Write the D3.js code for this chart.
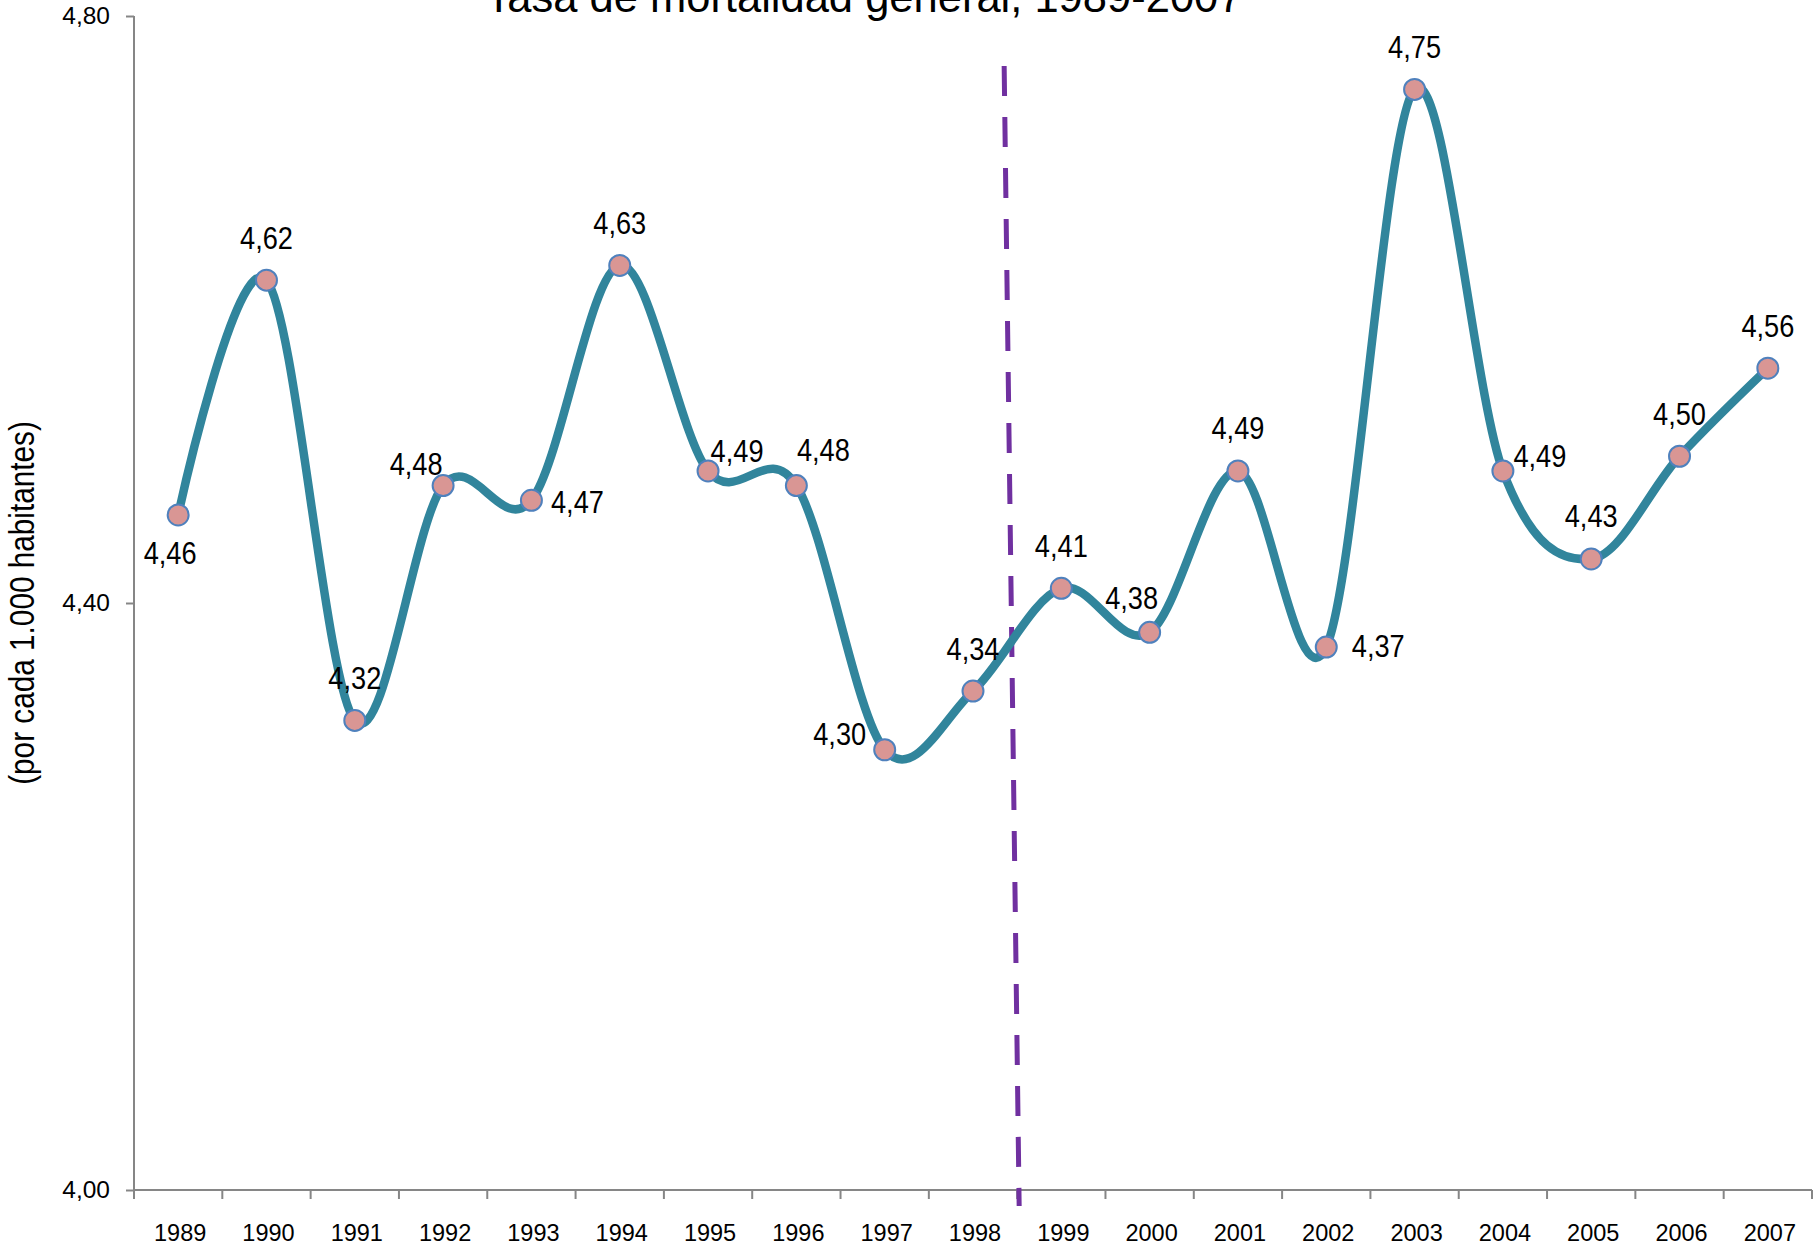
<!DOCTYPE html>
<html>
<head>
<meta charset="utf-8">
<script src="https://cdn.jsdelivr.net/npm/d3@7"></script>
<style>
  html, body { margin: 0; padding: 0; background: #ffffff; }
  svg { display: block; }
</style>
</head>
<body>
<svg id="chart" width="1818" height="1251"></svg>
<script>
// Tasa de mortalidad general por año
const years = ["1989", "1990", "1991", "1992", "1993", "1994", "1995", "1996", "1997", "1998",
               "1999", "2000", "2001", "2002", "2003", "2004", "2005", "2006", "2007"];
const rates = [4.46, 4.62, 4.32, 4.48, 4.47, 4.63, 4.49, 4.48, 4.30, 4.34,
               4.41, 4.38, 4.49, 4.37, 4.75, 4.49, 4.43, 4.50, 4.56];
const yTickValues = [4.00, 4.40, 4.80];
const titleText = "Tasa de mortalidad general, 1989-2007";
const yAxisTitle = "(por cada 1.000 habitantes)";
// year after which the period divider is drawn
const dividerYear = "1999";

const W = 1818, H = 1251;
const margin = { top: 16, right: 6, bottom: 61, left: 134 };

const svg = d3.select("#chart");

const x = d3.scaleBand()
  .domain(years)
  .range([margin.left, W - margin.right])
  .paddingInner(0).paddingOuter(0);

const y = d3.scaleLinear()
  .domain([4.00, 4.80])
  .range([H - margin.bottom, margin.top]);

const locale = d3.formatLocale({ decimal: ",", thousands: ".", grouping: [3], currency: ["", ""] });
const fmt = locale.format(".2f");

const axisColor = "#868686";
const sansFont = "'Liberation Sans', Arial, sans-serif";
// horizontally condensed sans for the narrow labels
const narrow = 0.85;

// Title (partly above the top edge)
svg.append("text")
  .attr("x", 864)
  .attr("y", 12)
  .attr("text-anchor", "middle")
  .attr("font-family", sansFont)
  .attr("font-size", 43.5)
  .attr("fill", "#000")
  .text(titleText);

// Y axis
const yAxis = svg.append("g")
  .attr("transform", `translate(${margin.left},0)`)
  .call(d3.axisLeft(y).tickValues(yTickValues).tickFormat(fmt).tickSize(8).tickPadding(16));
yAxis.select(".domain").attr("stroke", axisColor).attr("stroke-width", 2)
  .attr("d", `M0,${y(4.80)}V${y(4.00)}`);
yAxis.selectAll(".tick line").attr("stroke", axisColor).attr("stroke-width", 2);
yAxis.selectAll(".tick text")
  .attr("font-family", sansFont)
  .attr("font-size", 24.5)
  .attr("fill", "#000");

// X axis: ticks between categories
const xAxisG = svg.append("g")
  .attr("transform", `translate(0,${y(4.00)})`);
xAxisG.append("line")
  .attr("x1", margin.left).attr("x2", W - margin.right)
  .attr("y1", 0).attr("y2", 0)
  .attr("stroke", axisColor).attr("stroke-width", 2);
const boundaries = years.map(d => x(d)).concat([x(years[years.length - 1]) + x.bandwidth()]);
xAxisG.selectAll("line.tk")
  .data(boundaries)
  .join("line")
  .attr("class", "tk")
  .attr("x1", d => d).attr("x2", d => d)
  .attr("y1", 0).attr("y2", 9)
  .attr("stroke", axisColor).attr("stroke-width", 2);
xAxisG.selectAll("text.yr")
  .data(years)
  .join("text")
  .attr("class", "yr")
  .attr("x", d => x(d) + x.bandwidth() / 2 + 2)
  .attr("y", 51)
  .attr("text-anchor", "middle")
  .attr("font-family", sansFont)
  .attr("font-size", 23.5)
  .attr("fill", "#000")
  .text(d => d);

// Y axis title
svg.append("text")
  .attr("transform", `translate(34,${y(4.40)}) rotate(-90) scale(${narrow},1)`)
  .attr("text-anchor", "middle")
  .attr("font-family", sansFont)
  .attr("font-size", 35)
  .attr("fill", "#000")
  .text(yAxisTitle);

// Period divider (dashed, slightly slanted)
const divX = x(dividerYear);
svg.append("line")
  .attr("x1", divX - 13).attr("y1", y(4.80) + 50)
  .attr("x2", divX + 2).attr("y2", y(4.00) + 16)
  .attr("stroke", "#7030A0")
  .attr("stroke-width", 5)
  .attr("stroke-dasharray", "30 21");

// Smoothed series line
const pts = years.map((d, i) => ({ year: d, value: rates[i] }));
const line = d3.line()
  .x(d => x(d.year) + x.bandwidth() / 2)
  .y(d => y(d.value))
  .curve(d3.curveCardinal.tension(0));

svg.append("path")
  .datum(pts)
  .attr("d", line)
  .attr("fill", "none")
  .attr("stroke", "#31859C")
  .attr("stroke-width", 8.5)
  .attr("stroke-linejoin", "round")
  .attr("stroke-linecap", "round");

// Markers
svg.selectAll("circle.pt")
  .data(pts)
  .join("circle")
  .attr("class", "pt")
  .attr("cx", d => x(d.year) + x.bandwidth() / 2)
  .attr("cy", d => y(d.value))
  .attr("r", 10.5)
  .attr("fill", "#D99694")
  .attr("stroke", "#4F81BD")
  .attr("stroke-width", 2);

// Data label placement relative to each marker (offset of label centre)
const placement = {
  "1989": [-8, 38], "1992": [-27, -22], "1993": [46, 1], "1995": [29, -20],
  "1996": [27, -36], "1997": [-45, -16], "2000": [-18, -35], "2002": [52, -2],
  "2004": [37, -15]
};
const defaultOffset = [0, -43];

svg.selectAll("text.val")
  .data(pts)
  .join("text")
  .attr("class", "val")
  .attr("transform", d => {
    const off = placement[d.year] || defaultOffset;
    const cx = x(d.year) + x.bandwidth() / 2 + off[0];
    const cy = y(d.value) + off[1] + 11.5;
    return `translate(${cx},${cy}) scale(${narrow},1)`;
  })
  .attr("text-anchor", "middle")
  .attr("font-family", sansFont)
  .attr("font-size", 32)
  .attr("fill", "#000")
  .text(d => fmt(d.value));
</script>
</body>
</html>
